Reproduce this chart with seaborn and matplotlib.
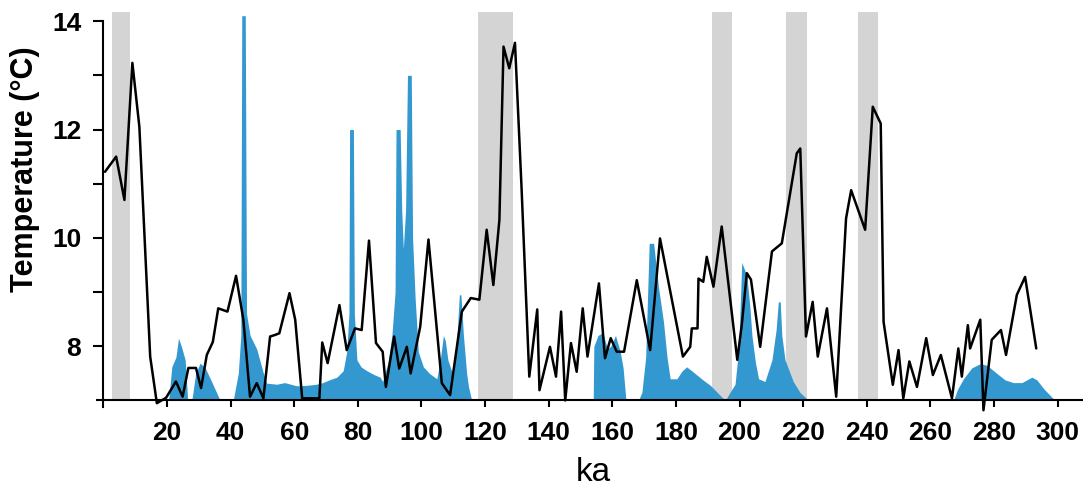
import matplotlib
matplotlib.use("Agg")
import numpy as np
import pandas as pd
import seaborn as sns
import matplotlib.pyplot as plt
from matplotlib.ticker import FixedLocator

# ---------------- data ----------------
temp_ka = [0.5, 4.0, 6.6, 9.1, 11.3, 14.7, 16.8, 19.7, 22.8, 24.9, 26.7, 29.1, 30.7,
           32.5, 34.4, 36.1, 39.0, 41.7, 44.0, 46.1, 48.2, 50.3, 52.4, 54.0, 55.3,
           58.5, 60.3, 62.5, 67.9, 68.8, 70.5, 74.2, 76.5, 79.1, 81.2, 83.5, 85.7,
           87.8, 88.8, 91.4, 93.0, 95.4, 96.6, 99.6, 102.2, 106.4, 109.0, 112.7,
           115.5, 118.2, 120.5, 122.6, 124.5, 125.8, 127.6, 129.4, 131.5, 133.9,
           136.4, 137.1, 140.4, 142.3, 143.9, 145.2, 147.0, 148.8, 150.7, 152.2,
           155.8, 157.7, 159.5, 161.4, 163.7, 167.7, 171.9, 175.0, 182.2, 184.5,
           185.0, 186.8, 187.1, 188.6, 189.7, 191.8, 194.4, 199.3, 200.7, 202.3,
           203.6, 206.5, 210.2, 213.3, 218.0, 219.1, 220.9, 223.0, 224.6, 227.5,
           230.4, 233.5, 235.1, 239.5, 241.9, 244.4, 245.3, 248.2, 250.0, 251.5,
           253.4, 255.8, 258.7, 260.8, 263.3, 266.8, 268.8, 269.9, 271.8, 272.5,
           275.7, 276.7, 279.3, 282.2, 283.8, 287.2, 289.8, 293.3]
temp_c = [11.22, 11.5, 10.7, 13.23, 12.05, 7.81, 6.95, 7.05, 7.35, 7.07, 7.6, 7.6, 7.23,
          7.84, 8.08, 8.7, 8.64, 9.3, 8.49, 7.07, 7.32, 7.04, 8.18, 8.21, 8.24,
          8.98, 8.49, 7.04, 7.04, 8.07, 7.69, 8.76, 7.93, 8.33, 8.3, 9.95, 8.06,
          7.9, 7.25, 8.18, 7.59, 7.99, 7.5, 8.36, 9.97, 7.32, 7.1, 8.64,
          8.89, 8.86, 10.15, 9.13, 10.33, 13.53, 13.13, 13.6, 10.88, 7.44,
          8.68, 7.19, 7.99, 7.44, 8.64, 7.0, 8.06, 7.53, 8.7, 7.81,
          9.16, 7.78, 8.15, 7.9, 7.9, 9.22, 7.93, 9.99, 7.81, 7.99,
          8.33, 8.33, 9.25, 9.19, 9.65, 9.1, 10.21, 7.75, 8.39, 9.35,
          9.23, 7.99, 9.75, 9.9, 11.56, 11.65, 8.18, 8.82, 7.81, 8.7,
          7.07, 10.36, 10.88, 10.15, 12.42, 12.11, 8.45, 7.29, 7.93, 7.04,
          7.72, 7.25, 8.15, 7.47, 7.84, 7.04, 7.96, 7.44, 8.39, 7.96,
          8.49, 6.82, 8.12, 8.3, 7.84, 8.95, 9.28, 7.96]

blue_ka = [20.5, 21.5, 22.8, 23.6, 24.5, 25.7, 26.5, 27.8, 29.0, 30.4, 32.0, 34.0, 36.7,
           40.8, 42.4, 43.2, 43.5, 44.6, 45.0, 46.1, 48.2, 50.3, 51.3, 54.5, 57.0,
           60.8, 64.0, 67.0, 69.0, 71.0, 73.4, 75.4, 76.5, 77.2, 77.4, 78.6, 78.9,
           79.7, 81.0, 82.8, 85.0, 87.0, 87.8, 89.5, 90.7, 91.7, 92.0, 93.3, 93.8,
           94.3, 95.0, 95.6, 96.8, 97.2, 98.0, 99.0, 100.6, 102.5, 104.8, 105.8,
           106.9, 107.5, 108.3, 110.0, 111.2, 111.9, 112.4, 113.2, 114.2, 114.8,
           115.8, 154.0, 154.2, 155.5, 157.0, 158.5, 159.5, 161.0, 162.5, 163.4,
           164.3, 168.2, 169.3, 170.5, 171.6, 173.0, 174.5, 176.1, 177.2, 178.2,
           180.3, 182.0, 183.4, 186.0, 188.5, 190.8, 193.0, 195.5, 197.0, 198.6,
           199.8, 200.7, 202.3, 203.3, 203.9, 205.0, 206.0, 208.0, 210.2, 211.5,
           212.2, 212.8, 213.3, 214.3, 216.9, 219.0, 221.7, 267.3, 268.5, 270.4,
           273.0, 275.7, 277.8, 280.9, 283.5, 286.1, 288.8, 291.9, 293.5, 295.6,
           299.2]
blue_val = [7.0, 7.62, 7.8, 8.15, 8.0, 7.75, 7.0, 7.0, 7.5, 7.69, 7.6, 7.35, 7.0,
            7.0, 7.5, 8.2, 14.1, 14.1, 8.6, 8.2, 7.95, 7.5, 7.32, 7.3, 7.33,
            7.27, 7.28, 7.3, 7.33, 7.38, 7.43, 7.55, 7.9, 8.6, 12.0, 12.0, 8.6,
            7.75, 7.62, 7.55, 7.48, 7.43, 7.35, 7.7, 8.2, 9.0, 12.0, 12.0, 10.5,
            9.8, 10.5, 13.0, 13.0, 10.0, 8.9, 7.9, 7.62, 7.5, 7.4, 7.7,
            8.2, 8.1, 7.75, 7.45, 8.2, 8.95, 8.95, 8.2, 7.5, 7.25,
            7.0, 7.0, 8.0, 8.2, 8.25, 7.95, 8.0, 8.2, 7.9, 7.6,
            7.0, 7.0, 7.15, 7.8, 9.9, 9.9, 9.1, 8.45, 7.8, 7.4,
            7.4, 7.55, 7.62, 7.5, 7.38, 7.28, 7.15, 7.0, 7.15, 7.3,
            8.0, 9.55, 9.3, 8.7, 8.2, 7.7, 7.4, 7.35, 7.75, 8.3,
            8.82, 8.82, 8.2, 7.75, 7.35, 7.15, 7.0, 7.0, 7.2, 7.4,
            7.6, 7.68, 7.65, 7.5, 7.38, 7.33, 7.33, 7.43, 7.38, 7.22,
            7.0]

band_start = [2.6, 117.9, 191.3, 214.6, 237.1]
band_end = [8.4, 128.9, 197.6, 221.2, 243.5]

x_ticks = list(range(20, 301, 20))
y_major = [8, 10, 12, 14]
y_minor = [9, 11, 13]

# ---------------- styling ----------------
sns.set_theme(style="ticks")
plt.rcParams['font.family'] = ['Liberation Sans', 'DejaVu Sans']

fig = plt.figure(figsize=(10.83, 4.9), dpi=100)
ax = fig.add_axes([0.0955, 0.1827, 0.9045, 0.793])

for s, e in zip(band_start, band_end):
    ax.axvspan(s, e, color="#d4d4d4", lw=0, zorder=0)

ax.fill_between(blue_ka, 7, blue_val, color="#3498d0", lw=0, zorder=1)

df = pd.DataFrame({"ka": temp_ka, "temp": temp_c})
sns.lineplot(data=df, x="ka", y="temp", color="black", lw=1.8, ax=ax,
             sort=False, estimator=None, zorder=3, clip_on=False)

ax.set_xlim(0, 308)
ax.set_ylim(7, 14.17)

sns.despine(ax=ax)
ax.spines['left'].set_bounds(6.88, 14)
ax.spines['bottom'].set_bounds(-2, 308)
for sp in ("left", "bottom"):
    ax.spines[sp].set_linewidth(1.5)
    ax.spines[sp].set_color("black")

ax.xaxis.set_major_locator(FixedLocator(x_ticks))
ax.yaxis.set_major_locator(FixedLocator(y_major))
ax.yaxis.set_minor_locator(FixedLocator(y_minor))
ax.tick_params(axis="x", which="major", length=5, width=1.5, color="black",
               pad=10, labelsize=19, labelcolor="black")
ax.tick_params(axis="y", which="both", length=7, width=1.5, color="black",
               pad=9, labelsize=19, labelcolor="black")
for lab in ax.get_xticklabels() + ax.get_yticklabels():
    lab.set_fontweight("bold")

ax.set_xlabel("ka", fontsize=24, color="black")
ax.xaxis.set_label_coords(0.5, -0.145)
ax.set_ylabel("Temperature (°C)", fontsize=22, fontweight="bold", color="black")
ax.yaxis.set_label_coords(-0.08, 0.596)
ax.yaxis.label.set_va("center")

fig.savefig("out.png", dpi=100)
